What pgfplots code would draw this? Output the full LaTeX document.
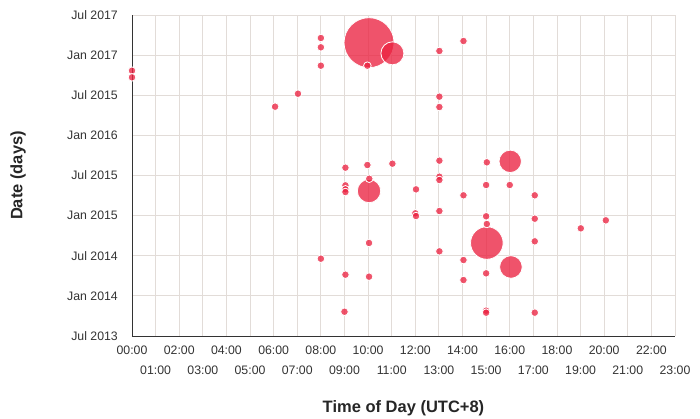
\documentclass[border=0pt]{standalone}
\usepackage{pgfplots}
\pgfplotsset{compat=1.18}
\usepackage{fontspec}
\setmainfont{Liberation Sans}

\definecolor{bub}{RGB}{235,35,65}
\definecolor{gridc}{RGB}{226,220,216}
\definecolor{txt}{RGB}{51,51,51}

% x = hour of day, y = months since Jul 2013, r = bubble radius (pt)
\pgfplotstableread{
x     y      r
10.04 43.86  25
15.03 13.91  16.3
10.04 21.68  11.7
11.03 42.27  11.5
16.05 10.32  11.3
16.02 26.12  11.2
0.00  39.67  3.8
0.00  38.68  3.8
6.06  34.29  3.8
7.03  36.23  3.8
8.00  44.56  3.8
8.00  43.17  3.8
8.00  40.42  3.8
9.97  40.42  3.8
13.02 42.62  3.8
13.02 35.79  3.8
13.02 34.24  3.8
14.04 44.11  3.8
9.04  25.17  3.8
9.97  25.57  3.8
11.03 25.77  3.8
13.02 26.22  3.8
10.05 23.52  3.8
13.02 23.82  3.8
13.02 23.33  3.8
9.04  22.53  3.8
9.04  21.93  3.8
9.04  21.53  3.8
12.03 21.93  3.8
12.00 18.35  3.8
12.03 17.94  3.8
13.02 18.69  3.8
10.04 13.91  3.8
13.02 12.66  3.8
8.00  11.56  3.8
9.04  9.17   3.8
10.04 8.87   3.8
9.00  3.63   3.8
15.03 25.97  3.8
14.04 21.04  3.8
15.00 22.58  3.8
16.00 22.58  3.8
17.06 21.04  3.8
15.00 17.90  3.8
15.03 16.75  3.8
17.06 17.54  3.8
19.01 16.10  3.8
20.07 17.30  3.8
17.06 14.16  3.8
14.04 11.36  3.8
15.00 9.37   3.8
14.04 8.37   3.8
15.00 3.79   3.8
15.00 3.49   3.8
17.06 3.49   3.8
}\bubbles

\begin{document}
\begin{tikzpicture}
\begin{axis}[
    name=ax,
    scale only axis,
    width=543pt, height=321pt,
    xmin=0, xmax=23,
    ymin=0, ymax=48,
    clip=false,
    axis x line*=bottom,
    axis y line*=left,
    axis line style={txt, line width=0.8pt, -},
    major tick length=0pt,
    grid=major,
    grid style={gridc, line width=0.9pt},
    xtick={0,2,...,22},
    xticklabels={00:00,02:00,04:00,06:00,08:00,10:00,12:00,14:00,16:00,18:00,20:00,22:00},
    extra x ticks={1,3,...,23},
    extra x tick labels={01:00,03:00,05:00,07:00,09:00,11:00,13:00,15:00,17:00,19:00,21:00,23:00},
    extra x tick style={xticklabel style={yshift=-19.5pt}},
    xticklabel style={font=\fontsize{12.3}{14}\selectfont, text=txt, inner sep=0pt, anchor=north, yshift=-10pt},
    ytick={0,6,...,48},
    yticklabels={Jul 2013,Jan 2014,Jul 2014,Jan 2015,Jul 2015,Jan 2016,Jul 2015,Jan 2017,Jul 2017},
    yticklabel style={font=\fontsize{12.3}{14}\selectfont, text=txt, inner sep=0pt, anchor=east, xshift=-14pt},
    xlabel={Time of Day (UTC+8)},
    ylabel={Date (days)},
    label style={font=\fontsize{16.5}{19}\selectfont\bfseries, text=black!85},
    xlabel style={at={(axis description cs:0.5,-0.2243)}, anchor=center},
    ylabel style={at={(axis description cs:-0.2099,0.5)}, anchor=center, rotate=0},
]
\addplot[
    scatter, only marks, mark=*,
    point meta={\thisrow{r}},
    visualization depends on={\thisrow{r} \as \rad},
    scatter/use mapped color={draw=white, fill=bub},
    scatter/@pre marker code/.append style={/tikz/mark size=\rad pt},
    mark options={fill opacity=0.78, draw opacity=1, line width=0.8pt},
] table[x=x, y=y] {\bubbles};
\end{axis}
\pgfresetboundingbox
\path[use as bounding box] ([shift={(-132pt,-82pt)}]ax.south west) rectangle ([shift={(25pt,15pt)}]ax.north east);
\end{tikzpicture}
\end{document}
